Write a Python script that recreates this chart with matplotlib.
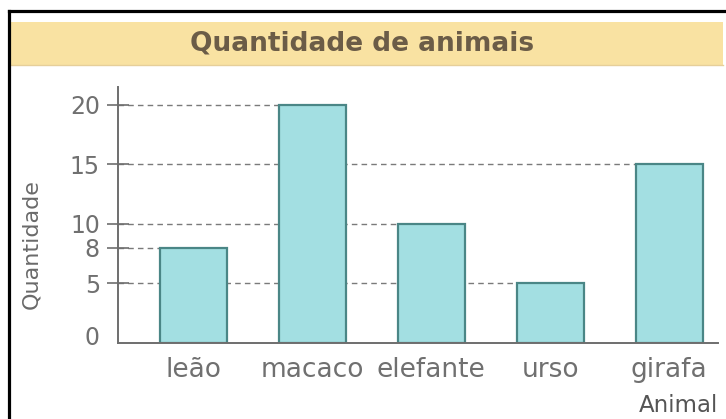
import matplotlib
matplotlib.use('Agg')
import matplotlib.pyplot as plt
import matplotlib.transforms as mtransforms
from matplotlib.patches import Rectangle
from matplotlib.lines import Line2D
import numpy as np

animais = ['leão', 'macaco', 'elefante', 'urso', 'girafa']
quantidades = [8, 20, 10, 5, 15]
marcas_y = [0, 5, 8, 10, 15, 20]

plt.rcParams['font.family'] = ['DejaVu Sans']

fig = plt.figure(figsize=(7.26, 4.19), dpi=100)
fig.patch.set_facecolor('white')

# faixa amarela do titulo
fig.patches.append(Rectangle((10/726, 1 - 65/419), 713/726, 43/419,
                             transform=fig.transFigure, facecolor='#f9e2a2',
                             edgecolor='none', zorder=0))
fig.lines.append(Line2D([10/726, 723/726], [1 - 65/419, 1 - 65/419],
                        transform=fig.transFigure, color='#e6cf9a', lw=1))
fig.text(362/726, 1 - 44/419, 'Quantidade de animais', ha='center', va='center',
         fontsize=19, fontweight='bold', color='#6b5c47')

# moldura preta
fig.lines.append(Line2D([8.5/726, 8.5/726], [0, 1 - 11.5/419],
                        transform=fig.transFigure, color='black', lw=2.3))
fig.lines.append(Line2D([8.5/726, 1], [1 - 11.5/419, 1 - 11.5/419],
                        transform=fig.transFigure, color='black', lw=2.3))

ax = fig.add_axes([118/726, 76/419, 600/726, 256/419])
ax.set_facecolor('none')

x = np.arange(len(animais))
w = 0.56
xmin, xmax = -0.634, 4.41

for xi, q in zip(x, quantidades):
    ax.hlines(q, xmin, xi - w/2, colors='#7a7a7a', linestyles=(0, (4, 3)),
              lw=1, zorder=1)

ax.bar(x, quantidades, width=w, color='#a3dfe2', edgecolor='#4a8686',
       linewidth=1.6, zorder=2)

ax.set_xlim(xmin, xmax)
ax.set_ylim(0, 21.5)
ax.set_xticks(x)
ax.set_xticklabels(animais)
ax.set_yticks(marcas_y)
ax.tick_params(axis='x', length=0, pad=10, labelsize=19, labelcolor='#707070')
ax.tick_params(axis='y', direction='inout', length=16, width=1.2, color='#6e6e6e',
               pad=5, labelsize=17, labelcolor='#707070')

t0 = ax.yaxis.get_major_ticks()[0]
t0.tick1line.set_visible(False)
t0.label1.set_transform(t0.label1.get_transform() +
                        mtransforms.ScaledTranslation(0, 8/100, fig.dpi_scale_trans))

for s in ['top', 'right']:
    ax.spines[s].set_visible(False)
for s in ['left', 'bottom']:
    ax.spines[s].set_color('#6e6e6e')
    ax.spines[s].set_linewidth(1.4)

ax.set_ylabel('Quantidade', fontsize=16, color='#6a6a6a')
ax.yaxis.set_label_coords(-0.128, 0.385)
ax.set_xlabel('Animal', fontsize=16.5, color='#555555', loc='right')
ax.xaxis.set_label_coords(1.0, -0.2)

fig.savefig('out.png', dpi=100)
